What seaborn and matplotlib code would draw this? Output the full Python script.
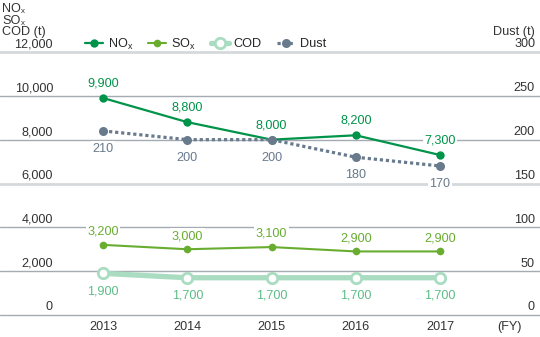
import numpy as np
import pandas as pd
import matplotlib
matplotlib.use("Agg")
import matplotlib.pyplot as plt
import matplotlib.transforms as mtransforms
from matplotlib.lines import Line2D
import seaborn as sns

years = [2013, 2014, 2015, 2016, 2017]
nox = [9900, 8800, 8000, 8200, 7300]
sox = [3200, 3000, 3100, 2900, 2900]
cod = [1900, 1700, 1700, 1700, 1700]
dust = [210, 200, 200, 180, 170]
left_ticks = [0, 2000, 4000, 6000, 8000, 10000, 12000]
right_ticks = [0, 50, 100, 150, 200, 250, 300]

sns.set_theme(style="white")
plt.rcParams["font.family"] = ["Liberation Sans", "DejaVu Sans"]
plt.rcParams["mathtext.fontset"] = "custom"
plt.rcParams["mathtext.rm"] = "Liberation Sans"
plt.rcParams["mathtext.it"] = "Liberation Sans:italic"

C_NOX = "#00934a"
C_SOX = "#68ad30"
C_COD_LINE = "#a9dcc0"
C_COD_TXT = "#5dbd88"
C_DUST = "#687a8c"
C_GRID = "#a4abb2"
C_GRID_LIGHT = "#d6d9dc"
C_TEXT = "#333333"
FS = 9.1

fig = plt.figure(figsize=(5.4, 3.37), dpi=100)
ax = fig.add_axes([0, 22 / 337, 1, 263 / 337])
ax.set_xlim(2011.777, 2018.187)
ax.set_ylim(0, 12000)
ax2 = ax.twinx()
ax2.set_ylim(0, 300)

# horizontal guide lines
for v in left_ticks:
    major = v in (6000, 12000)
    ax.axhline(v, color=C_GRID_LIGHT if major else C_GRID,
               lw=2.0 if major else 1.0, zorder=0, clip_on=False)

df = pd.DataFrame({"year": years, "NOx": nox, "SOx": sox, "COD": cod, "Dust": dust})

sns.lineplot(data=df, x="year", y="COD", ax=ax, color=C_COD_LINE, lw=3.8,
             marker="o", markersize=7.5, markerfacecolor="white",
             markeredgecolor=C_COD_LINE, markeredgewidth=2, zorder=2)
sns.lineplot(data=df, x="year", y="SOx", ax=ax, color=C_SOX, lw=1.5,
             marker="o", markersize=5.5, markeredgewidth=0, zorder=2)
sns.lineplot(data=df, x="year", y="NOx", ax=ax, color=C_NOX, lw=1.6,
             marker="o", markersize=6, markeredgewidth=0, zorder=2)
sns.lineplot(data=df, x="year", y="Dust", ax=ax2, color=C_DUST, lw=2.3,
             linestyle=(0, (1.0, 0.9)), marker="o", markersize=6.5,
             markeredgewidth=0, zorder=2)
for a in (ax, ax2):
    a.set_xlabel("")
    a.set_ylabel("")
    a.axis("off")

box = dict(fc="white", ec="none", pad=1.2)


def annotate(a, xs, ys, color, dy):
    for x, y in zip(xs, ys):
        a.annotate(f"{y:,}", (x, y), xytext=(0, dy), textcoords="offset points",
                   ha="center", va="center", fontsize=FS, color=color,
                   bbox=box, zorder=3)


annotate(ax, years, nox, C_NOX, 10.5)
annotate(ax, years, sox, C_SOX, 9.5)
annotate(ax, years, cod, C_COD_TXT, -13)
annotate(ax2, years, dust, C_DUST, -13)

# axis value labels
tl = mtransforms.blended_transform_factory(fig.transFigure, ax.transData)
tr = mtransforms.blended_transform_factory(fig.transFigure, ax2.transData)
off = mtransforms.ScaledTranslation(0, 1.5 / 100, fig.dpi_scale_trans)
for v in left_ticks:
    ax.text(53 / 540, v, f"{v:,}", transform=tl + off, ha="right", va="bottom",
            fontsize=FS, color=C_TEXT)
for v in right_ticks:
    ax2.text(535 / 540, v, f"{v}", transform=tr + off, ha="right", va="bottom",
             fontsize=FS, color=C_TEXT)

for y in years:
    fig.text((103 + (y - 2013) * 84.25) / 540, 1 - 327 / 337, str(y),
             ha="center", va="center", fontsize=FS, color=C_TEXT)
fig.text(510 / 540, 1 - 327 / 337, "(FY)", ha="center", va="center",
         fontsize=FS, color=C_TEXT)

# unit captions, subscripts drawn as separate smaller text
renderer = fig.canvas.get_renderer()
for base, sub, ypx in [("NO", "x", 12), ("SO", "x", 24), ("COD (t)", "", 35.5)]:
    t = fig.text(2 / 540, 1 - ypx / 337, base, ha="left", va="baseline",
                 fontsize=FS, color=C_TEXT)
    if sub:
        w = t.get_window_extent(renderer).width
        fig.text((2 + w + 0.3) / 540, 1 - (ypx + 1) / 337, sub, ha="left",
                 va="baseline", fontsize=FS * 0.62, color=C_TEXT)
fig.text(535 / 540, 1 - 35.5 / 337, "Dust (t)", ha="right", va="baseline",
         fontsize=FS, color=C_TEXT)

handles = [
    Line2D([], [], color=C_NOX, lw=1.6, marker="o", markersize=6, markeredgewidth=0),
    Line2D([], [], color=C_SOX, lw=1.5, marker="o", markersize=5.5, markeredgewidth=0),
    Line2D([], [], color=C_COD_LINE, lw=3.8, marker="o", markersize=7.5,
           markerfacecolor="white", markeredgecolor=C_COD_LINE, markeredgewidth=2),
    Line2D([], [], color=C_DUST, lw=2.3, linestyle=(0, (1.0, 0.9)), marker="o",
           markersize=6.5, markeredgewidth=0),
]
labels = ["NO$_\\mathrm{x}$", "SO$_\\mathrm{x}$", "COD", "Dust"]
fig.legend(handles, labels, loc="center left", bbox_to_anchor=(85 / 540, 1 - 44 / 337),
           ncol=4, frameon=False, fontsize=FS, handlelength=1.4,
           handletextpad=0.4, columnspacing=1.2, borderaxespad=0, borderpad=0)

fig.savefig("out.png", dpi=100)
